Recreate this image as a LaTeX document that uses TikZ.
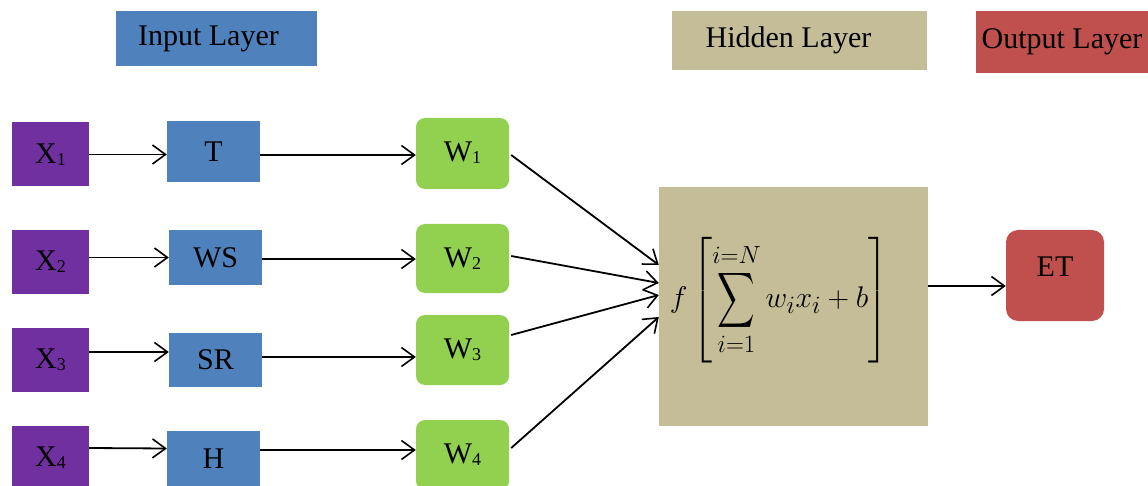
\documentclass[tikz,border=0pt]{standalone}
\usepackage{amsmath}
\usepackage{graphicx}
\usepackage{fontspec}
\setmainfont{Liberation Serif}
\usetikzlibrary{arrows.meta}
\definecolor{cpur}{HTML}{7030A0}
\definecolor{cblue}{HTML}{4F81BD}
\definecolor{cgreen}{HTML}{92D050}
\definecolor{ctan}{HTML}{C4BD97}
\definecolor{cred}{HTML}{C0504D}
\newcommand{\sbs}[1]{\raisebox{-2pt}{\fontsize{18}{18}\selectfont #1}}
\tikzset{
  box/.style={draw=none, inner sep=0pt, text=black, font=\fontsize{30}{36}\selectfont},
  xbox/.style={box, fill=cpur, minimum width=77pt, minimum height=64pt},
  ibox/.style={box, fill=cblue, minimum width=93pt},
  wbox/.style={box, fill=cgreen, rounded corners=9pt, minimum width=93pt, minimum height=70pt},
  arr/.style={line width=1.8pt, -{Straight Barb[length=13pt,width=19pt,line width=1.6pt]}}
}
\begin{document}
\begin{tikzpicture}[x=1pt,y=-1pt]
\useasboundingbox (0,0) rectangle (1148,486);
\clip (0,0) rectangle (1148,486);
% layer labels
\node[box, fill=cblue, minimum width=201pt, minimum height=55pt] (inlab) at (216.5,38.5) {\hspace*{-16pt}\raisebox{-2pt}{Input Layer}};
\node[box, fill=ctan, minimum width=255pt, minimum height=59pt] (hidlab) at (799.5,40.5) {\hspace*{-22pt}\raisebox{-1pt}{Hidden Layer}};
\node[box, fill=cred, minimum width=172pt, minimum height=62pt] (outlab) at (1062,42) {Output Layer};
% inputs
\node[xbox] (x1) at (50.5,154.5) {X\sbs{1}};
\node[xbox] (x2) at (50.5,262) {X\sbs{2}};
\node[xbox] (x3) at (50.5,360) {X\sbs{3}};
\node[xbox] (x4) at (50.5,458) {X\sbs{4}};
% variables
\node[ibox, minimum height=61pt] (t) at (213.5,151.5) {T};
\node[ibox, minimum height=55pt] (ws) at (215.5,257.5) {WS};
\node[ibox, minimum height=54pt] (sr) at (215.5,360) {SR};
\node[ibox, minimum height=55pt] (h) at (213.5,458.5) {H};
% weights
\node[wbox, minimum height=71pt] (w1) at (462.5,153.5) {\raisebox{3pt}{W\sbs{1}}};
\node[wbox, minimum height=69pt] (w2) at (462.5,258.5) {W\sbs{2}};
\node[wbox] (w3) at (462.5,350) {W\sbs{3}};
\node[wbox] (w4) at (462.5,455) {W\sbs{4}};
% hidden
\node[box, fill=ctan, minimum width=269pt, minimum height=239pt] (hid) at (793.5,306.5) {};
\node[box, font=\Huge] (formula) at (779,300)
  {\scalebox{1.2}{$\delimiterfactor=1000\displaystyle f\left[\vrule height 47pt depth 34.5pt width 0pt
   \mathop{\vcenter{\hbox{\scalebox{0.87}[1.29]{$\displaystyle\sum$}}}}\limits_{i=1}^{i=N} w_i x_i + b\right]$}};
% output
\node[box, fill=cred, rounded corners=12pt, minimum width=98pt, minimum height=91pt] (et) at (1055,275.5) {\raisebox{18pt}{ET}};
% arrows input -> variable
\draw[arr] (x1.east) -- (x1.east -| t.west);
\draw[arr] (ws.west -| x2.east) -- (ws.west);
\draw[arr] ([yshift=8pt]x3.east) -- ([yshift=8pt]sr.west);
\draw[arr] ([yshift=10pt]x4.east) -- ([yshift=10pt]h.west);
% variable -> weight
\draw[arr] ([yshift=-3.5pt]t.east) -- ([yshift=-1.5pt]w1.west);
\draw[arr] ([yshift=-1.5pt]ws.east) -- ([yshift=-0.5pt]w2.west);
\draw[arr] ([yshift=3pt]sr.east) -- ([yshift=-7pt]w3.west);
\draw[arr] ([yshift=8.5pt]h.east) -- ([yshift=5pt]w4.west);
% weight -> hidden
\draw[arr] ([xshift=2pt,yshift=-1.5pt]w1.east) -- ([yshift=41.5pt]hid.west);
\draw[arr] ([xshift=2pt,yshift=2.5pt]w2.east) -- ([yshift=23.5pt]hid.west);
\draw[arr] ([xshift=2pt,yshift=15pt]w3.east) -- ([yshift=11.5pt]hid.west);
\draw[arr] ([xshift=2pt,yshift=7pt]w4.east) -- ([yshift=-10.5pt]hid.west);
% hidden -> output
\draw[arr] ([yshift=20.5pt]hid.east) -- ([yshift=-10.5pt]et.west);
\end{tikzpicture}
\end{document}
